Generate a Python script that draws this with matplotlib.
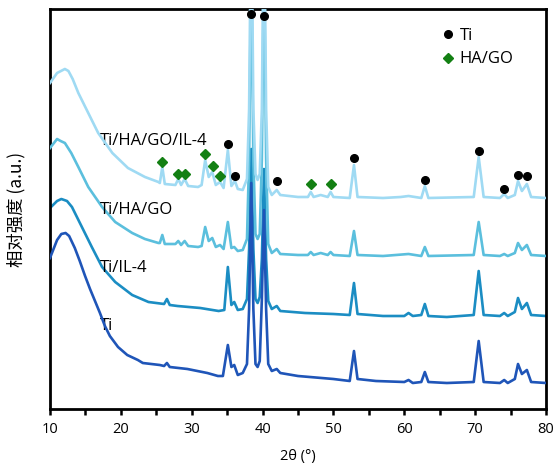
import matplotlib.pyplot as plt
from matplotlib.lines import Line2D

plt.rcParams['font.family'] = ['Open Sans', 'Noto Sans CJK SC', 'DejaVu Sans']

# --- Daten ---
# Ti
x_ti = [10.0, 11.0, 11.6, 12.2, 12.7, 13.5, 14.2, 14.95, 15.65, 16.35, 17.05, 17.75, 18.45, 19.6,
        20.9, 22.4, 23.1, 25.5, 26.1, 26.5, 26.9, 29.4, 32.2, 33.7, 34.4, 35.1, 35.6, 36.0, 36.5,
        37.2, 37.8, 38.1, 38.4, 38.7, 39.0, 39.3, 39.6, 39.9, 40.2, 40.5, 40.8, 41.3, 42.0, 42.5,
        45.0, 50.0, 52.3, 52.9, 53.4, 56.0, 60.0, 60.6, 61.2, 62.4, 62.9, 63.4, 66.0, 69.8, 70.5,
        71.2, 73.5, 74.1, 74.6, 75.6, 76.05, 76.6, 77.3, 77.9, 80.0]
y_ti = [151, 169, 175, 176, 173, 161, 148, 133, 120, 108, 96, 83, 73, 62,
        54, 49, 46, 44, 43, 46, 42, 40, 36, 33, 33, 64, 42, 44, 34,
        36, 45, 100, 226, 100, 45, 42, 48, 110, 199, 100, 45, 38, 40, 36,
        33, 30, 28, 58, 30, 28, 27, 29, 26, 27, 37, 27, 26, 27, 68,
        27, 26, 29, 26, 30, 45, 35, 39, 27, 26]

# Ti/IL-4
x_il = [10.0, 11.0, 11.6, 12.4, 13.1, 14.5, 15.9, 17.35, 19.2, 21.6, 23.9, 26.1, 26.5, 26.9,
        28.0, 31.2, 33.8, 34.6, 35.1, 35.6, 36.0, 36.5, 37.2, 37.8, 38.1, 38.4, 38.7, 39.0,
        39.3, 39.6, 39.9, 40.2, 40.5, 40.8, 41.3, 42.0, 42.5, 46.0, 50.0, 52.3, 52.9, 53.4,
        57.0, 60.0, 60.6, 61.2, 62.4, 62.9, 63.4, 66.0, 69.8, 70.5, 71.2, 73.5, 74.1, 74.6,
        75.6, 76.05, 76.6, 77.3, 77.9, 80.0]
y_il = [201, 208, 210, 208, 202, 182, 162, 142, 127, 114, 107, 105, 110, 104,
        103, 101, 98, 99, 142, 104, 107, 99, 100, 110, 160, 260, 160, 110,
        106, 112, 150, 240, 150, 108, 100, 103, 98, 96, 95, 94, 126, 95,
        93, 93, 96, 93, 94, 105, 93, 92, 94, 138, 94, 93, 96, 93,
        97, 111, 100, 106, 94, 93]

# Ti/HA/GO
x_hg = [10.0, 11.0, 11.5, 12.1, 13.0, 14.0, 15.4, 17.35, 19.2, 21.6, 23.4, 25.3, 25.5, 25.85, 26.2,
        27.7, 28.1, 28.5, 29.0, 29.5, 30.9, 31.4, 31.9, 32.4, 32.9, 33.4, 34.0, 34.5, 35.1,
        35.6, 36.0, 36.5, 37.2, 37.8, 38.1, 38.4, 38.7, 39.0, 39.3, 39.6, 39.9, 40.2, 40.5,
        40.8, 41.3, 42.0, 42.5, 45.0, 46.4, 46.8, 47.2, 48.2, 49.2, 49.6, 50.0, 52.3, 52.9,
        53.4, 57.0, 60.6, 62.4, 62.9, 63.4, 69.8, 70.5, 71.2, 73.5, 74.1, 74.6, 75.6, 76.05,
        76.6, 77.3, 77.9, 80.0]
y_hg = [261, 270, 268, 266, 256, 242, 222, 202, 187, 176, 170, 166, 166, 174, 165,
        165, 168, 164, 168, 163, 162, 163, 182, 168, 171, 162, 164, 160, 187,
        161, 162, 158, 159, 170, 250, 450, 250, 175, 170, 175, 250, 450, 250,
        165, 156, 160, 155, 154, 154, 157, 154, 156, 154, 157, 154, 153, 178,
        154, 153, 155, 153, 162, 153, 154, 187, 154, 153, 155, 153, 156, 166,
        159, 164, 154, 153]

# Ti/HA/GO/IL-4
x_hgi = [10.0, 11.0, 12.1, 12.6, 13.2, 14.0, 15.4, 16.8, 18.8, 21.0, 23.4, 25.3, 25.5, 25.85, 26.2,
         27.7, 28.1, 28.5, 29.0, 29.5, 30.9, 31.4, 31.9, 32.4, 32.9, 33.4, 34.0, 34.5, 35.1,
         35.6, 36.1, 36.5, 37.2, 37.8, 38.1, 38.4, 38.7, 39.0, 39.3, 39.6, 39.9, 40.2, 40.5,
         40.8, 41.3, 42.0, 42.5, 45.0, 46.4, 46.8, 47.2, 48.2, 49.2, 49.6, 50.0, 52.3, 52.9,
         53.4, 57.0, 59.5, 60.6, 62.4, 62.9, 63.4, 69.8, 70.5, 71.2, 73.5, 74.1, 74.6, 75.6,
         76.05, 76.6, 77.3, 77.9, 80.0]
y_hgi = [326, 336, 340, 338, 330, 316, 296, 276, 256, 241, 232, 227, 226, 242, 225,
         224, 230, 224, 230, 223, 222, 224, 249, 232, 237, 224, 227, 221, 259,
         223, 228, 220, 219, 230, 300, 520, 300, 235, 229, 235, 300, 520, 300,
         222, 214, 219, 214, 212, 212, 217, 212, 214, 212, 217, 212, 211, 244,
         212, 211, 212, 213, 211, 223, 211, 212, 252, 212, 211, 215, 211, 214,
         228, 218, 225, 212, 211]

# Markierungen
ti_mark_x = [35.1, 36.1, 38.4, 40.2, 42.1, 52.9, 62.9, 70.5, 74.1, 76.05, 77.3]
ti_mark_y = [265, 233, 395, 393, 228, 251, 229, 258, 220, 234, 233]
hg_mark_x = [25.85, 28.1, 29.0, 31.9, 33.0, 34.0, 46.8, 49.6]
hg_mark_y = [247, 235, 235, 255, 243, 233, 225, 225]

labels = ['Ti/HA/GO/IL-4', 'Ti/HA/GO', 'Ti/IL-4', 'Ti']
label_y = [268, 199, 141, 83]

c_hgi = '#9fdaf3'
c_hg = '#5bbfdd'
c_il = '#1b8dc3'
c_ti = '#1f55b8'

# --- Plot ---
fig = plt.figure(figsize=(5.58, 4.73), dpi=100)
ax = fig.add_axes([0.0896, 0.1353, 0.8889, 0.8457])

lw = 1.9
ax.plot(x_il, y_il, color=c_il, lw=lw, zorder=2)
ax.plot(x_hg, y_hg, color=c_hg, lw=lw, zorder=3)
ax.plot(x_hgi, y_hgi, color=c_hgi, lw=lw, zorder=4)
ax.plot(x_ti, y_ti, color=c_ti, lw=lw, zorder=5)

ax.plot(ti_mark_x, ti_mark_y, 'o', color='black', ms=5.5, zorder=6, clip_on=False)
ax.plot(hg_mark_x, hg_mark_y, 'D', color='#138013', ms=5.5, zorder=6)

for lab, ly in zip(labels, label_y):
    ax.text(17.05, ly, lab, fontsize=12, va='center', ha='left')

handles = [Line2D([], [], marker='o', color='black', ls='none', ms=5.5, label='Ti'),
           Line2D([], [], marker='D', color='#138013', ls='none', ms=5.5, label='HA/GO')]
ax.legend(handles=handles, loc='upper left', bbox_to_anchor=(0.752, 0.99), frameon=False,
          fontsize=12, handletextpad=0.1, handlelength=1.2, labelspacing=0.45)

ax.set_xlim(10, 80)
ax.set_ylim(0, 400)
ax.set_xticks(range(10, 81, 10))
ax.set_xticks(range(15, 80, 10), minor=True)
ax.set_yticks([])
ax.tick_params(axis='x', which='both', direction='out', length=4, width=1.8, labelsize=10.5, pad=5)
for sp in ax.spines.values():
    sp.set_linewidth(2)

ax.set_xlabel('2θ (°)', fontsize=10.5, family=['Open Sans', 'DejaVu Sans'], labelpad=9)
ax.set_ylabel('相对强度 (a.u.)', fontsize=12.5, family=['Noto Sans CJK SC', 'DejaVu Sans'])
ax.yaxis.set_label_coords(-0.05, 0.5)

plt.savefig('out.png', dpi=100)
